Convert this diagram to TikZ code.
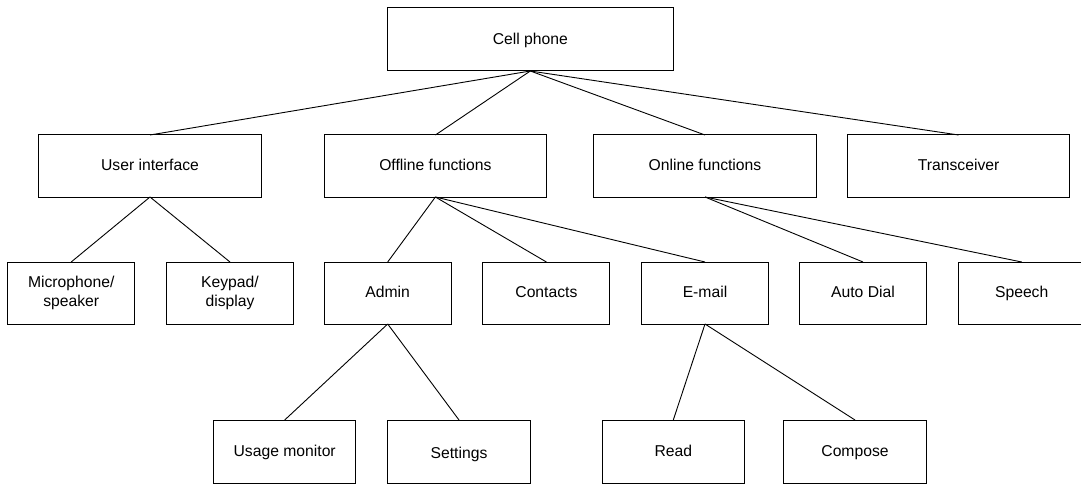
\documentclass[tikz,border=0pt]{standalone}
\usepackage{fontspec}
\setmainfont{Liberation Sans}
\begin{document}
\begin{tikzpicture}[x=1pt,y=-1pt,
  box/.style={draw=black,line width=1pt,inner sep=0pt,outer sep=0pt,align=center,
    font=\fontsize{15.7}{19}\selectfont},
  oneline/.style={text height=12pt,text depth=2.2pt},
  topbox/.style={box,oneline,minimum width=286pt,minimum height=63pt},
  midbox/.style={box,oneline,minimum width=222.5pt,minimum height=62pt},
  leafbox/.style={box,minimum width=127pt,minimum height=62pt},
  lowbox/.style={box,oneline,minimum width=142.5pt,minimum height=63pt},
  link/.style={draw=black,line width=0.9pt}]
\clip (0,0) rectangle (1081,484);
\node[topbox] (cell) at (530.3,39.5) {Cell phone};
\node[midbox] (ui) at (150,166) {User interface};
\node[midbox] (off) at (435.4,166) {Offline functions};
\node[midbox] (on) at (705,166) {Online functions};
\node[midbox] (tr) at (958.6,166) {Transceiver};
\node[leafbox] (mic) at (71.2,293) {Microphone/\\speaker};
\node[leafbox] (key) at (230,293) {Keypad/\\display};
\node[leafbox,oneline] (adm) at (387.7,293) {Admin};
\node[leafbox,oneline] (con) at (546.4,293) {Contacts};
\node[leafbox,oneline] (ema) at (705,293) {E-mail};
\node[leafbox,oneline] (aut) at (863,293) {Auto Dial};
\node[leafbox,oneline] (spe) at (1021.7,293) {Speech};
\node[lowbox] (use) at (284.7,451.5) {Usage monitor};
\node[lowbox,text height=16pt,text depth=2pt] (set) at (459,451.5) {Settings};
\node[lowbox] (rea) at (673.3,451.5) {Read};
\node[lowbox] (com) at (855,451.5) {Compose};
\foreach \c in {ui,off,on,tr} \path[link] (cell.south) -- (\c.north);
\foreach \c in {mic,key} \path[link] (ui.south) -- (\c.north);
\foreach \c in {adm,con,ema} \path[link] (off.south) -- (\c.north);
\foreach \c in {aut,spe} \path[link] (on.south) -- (\c.north);
\foreach \c in {use,set} \path[link] (adm.south) -- (\c.north);
\foreach \c in {rea,com} \path[link] (ema.south) -- (\c.north);
\end{tikzpicture}
\end{document}
